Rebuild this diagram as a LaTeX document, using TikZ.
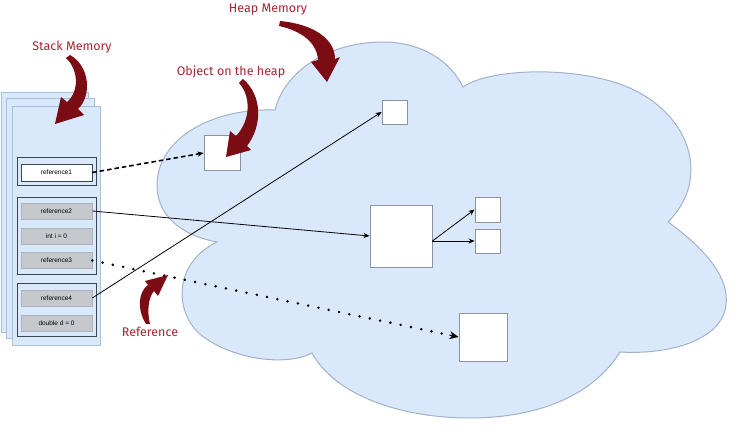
\documentclass[tikz,border=0pt]{standalone}
\usepackage{fontspec}
\setmainfont{Liberation Sans}
\newfontfamily\notefont{Fira Sans}
\usetikzlibrary{calc}
\usetikzlibrary{arrows.meta}

\definecolor{stackblue}{HTML}{DAE8FC}
\definecolor{pageline}{HTML}{A9BFDC}
\definecolor{frameline}{HTML}{3C4650}
\definecolor{slotgray}{HTML}{C5C9CD}
\definecolor{slotline}{HTML}{AEB3B8}
\definecolor{objline}{HTML}{8C929A}
\definecolor{cloudline}{HTML}{A2B2C8}
\definecolor{notered}{HTML}{A82430}
\definecolor{arrowred}{HTML}{7C0C14}

\begin{document}
\begin{tikzpicture}[x=1pt,y=-1pt,
  page/.style={fill=stackblue,draw=pageline,line width=0.8pt},
  frame/.style={draw=frameline,line width=1pt},
  slot/.style={fill=slotgray,draw=slotline,line width=0.6pt,minimum width=71pt,minimum height=16pt,inner sep=0pt,font=\fontsize{6.5}{7}\selectfont},
  obj/.style={fill=white,draw=objline,line width=0.9pt,inner sep=0pt},
  note/.style={text=notered,font=\notefont\fontsize{12.5}{14}\selectfont},
  curly/.style={fill=arrowred},
  ptr/.style={-{Stealth[length=6pt,width=5pt]},line width=0.8pt},
  dotty/.style={line width=2.8pt,line cap=round,dash pattern=on 0pt off 10.5pt,shorten >=5pt}]

\useasboundingbox (0,0) rectangle (750,443);

\draw[fill=stackblue,draw=cloudline,line width=1pt] (217,242) .. controls (180,235) and (157,215) .. (157,185)
  .. controls (157,140) and (210,108) .. (275,110)
  .. controls (285,70) and (330,42) .. (383,42)
  .. controls (420,42) and (450,60) .. (463,87)
  .. controls (490,68) and (575,66) .. (625,86)
  .. controls (690,112) and (712,178) .. (668,222)
  .. controls (700,245) and (730,275) .. (726,305)
  .. controls (722,340) and (670,355) .. (620,352)
  .. controls (590,400) and (530,418) .. (470,418)
  .. controls (400,418) and (335,395) .. (312,353)
  .. controls (290,365) and (240,362) .. (205,338)
  .. controls (175,318) and (170,265) .. (217,242) -- cycle;

\draw[page] (1,92) rectangle (88,332);
\draw[page] (6,98) rectangle (94,338);
\draw[page] (12,106) rectangle (100,345);
\draw[frame] (17,158) rectangle (96,186);
\draw[frame] (17,198) rectangle (96,275);
\draw[frame] (17,284) rectangle (96,337);

\node[slot,fill=white,draw=frameline,minimum height=17pt] (ref1) at (56.5,172.5) {reference1};
\node[slot] (ref2) at (56.5,211) {reference2};
\node[slot] (inti) at (56.5,236) {int i = 0};
\node[slot] (ref3) at (56.5,260.5) {reference3};
\node[slot] (ref4) at (56.5,298) {reference4};
\node[slot] (dbld) at (56.5,323.5) {double d = 0};

\node[obj,minimum width=36pt,minimum height=35pt] (heapobj) at (222,153) {};
\node[obj,minimum width=25pt,minimum height=24pt] (topobj) at (394.5,112) {};
\node[obj,minimum size=62pt] (bigobj) at (401,236) {};
\node[obj,minimum size=25pt] (fieldA) at (487.5,209.5) {};
\node[obj,minimum width=25pt,minimum height=24pt] (fieldB) at (487.5,241) {};
\node[obj,minimum size=48pt] (lowobj) at (483,337) {};

\coordinate (fork) at (bigobj.east |- fieldB.west);
\coordinate (lowtip) at ($(ref3.east)!0.975!(lowobj.west)$);

\draw[ptr,line width=1.6pt,dash pattern=on 4.5pt off 3pt] (ref1.east) -- (heapobj.west);
\draw[ptr] (ref2.east) -- (bigobj.west);
\draw[ptr] (ref4.east) -- (topobj.west);
\draw[dotty] (ref3.east) -- (lowobj.west);
\draw[-{Stealth[length=9pt,width=8pt]},line width=1pt] (lowtip) -- (lowobj.west);
\draw[ptr] (fork) -- (fieldA.west);
\draw[ptr] (fork) -- (fieldB.west);

\node[note] (stacklbl) at (72,47) {Stack Memory};
\node[note] (heaplbl) at (268,10) {Heap Memory};
\node[note] (objlbl) at (231,72) {Object on the heap};
\node[note] (reflbl) at (150,332) {Reference};

\fill[curly] (70,55) .. controls (90,66) and (92,96) .. (78,109) -- (84,115) -- (55,124) -- (61,97) -- (67,102) .. controls (79,92) and (79,70) .. (66,58) -- cycle;
\fill[curly] (280,21) .. controls (312,24) and (335,38) .. (335,59) -- (340,57) -- (327,82) -- (311,62) -- (318,60) .. controls (317,43) and (302,31) .. (279,26) -- cycle;
\fill[curly] (243,79) .. controls (262,95) and (263,125) .. (247,146) -- (251,150) -- (226,157) -- (230,131) -- (236,136) .. controls (251,120) and (251,96) .. (239,83) -- cycle;
\fill[curly] (146,324) .. controls (137,310) and (138,292) .. (148,285) -- (145,281) -- (168,275) -- (158,296) -- (154,291) .. controls (148,298) and (147,312) .. (150,324) -- cycle;

\end{tikzpicture}
\end{document}
